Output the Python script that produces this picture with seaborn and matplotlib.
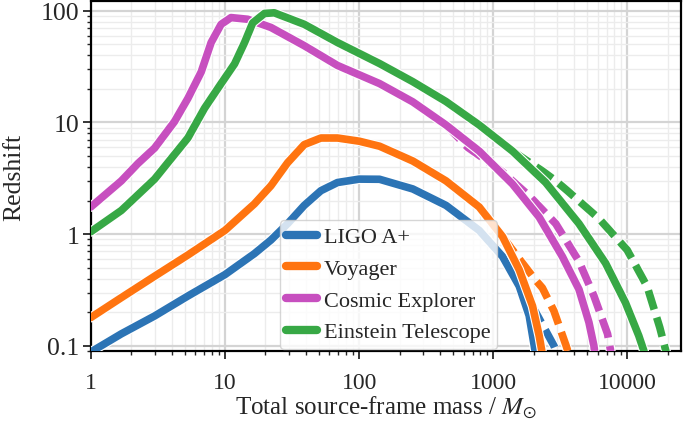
import numpy as np
import pandas as pd
import seaborn as sns
import matplotlib.pyplot as plt
import matplotlib.patheffects as pe
from matplotlib.ticker import FixedLocator, FixedFormatter, LogLocator, NullFormatter

# Values (total mass in solar masses, redshift)
ligo_mass = [1, 1.69, 2.99, 5.29, 10, 16.6, 22, 29.3, 39, 51.9, 69, 100, 142, 251, 444, 785, 1172, 1560, 1850, 2018, 2080]
ligo_z = [0.088, 0.128, 0.185, 0.279, 0.434, 0.67, 0.885, 1.24, 1.81, 2.45, 2.9, 3.11, 3.1, 2.54, 1.81, 1.08, 0.63, 0.342, 0.186, 0.1, 0.08]
ligo_dash_mass = [1172, 1560, 2070, 2830, 3050]
ligo_dash_z = [0.63, 0.36, 0.2, 0.1, 0.08]

voy_mass = [1, 1.69, 2.99, 5.29, 10, 16.6, 22, 29.3, 39, 51.9, 69, 100, 142, 251, 444, 785, 1172, 1560, 1960, 2197, 2330]
voy_z = [0.179, 0.27, 0.42, 0.65, 1.08, 1.87, 2.71, 4.36, 6.34, 7.26, 7.26, 6.8, 6.13, 4.52, 3.0, 1.75, 0.95, 0.48, 0.227, 0.123, 0.082]
voy_dash_mass = [1172, 1560, 2020, 2320, 2830, 3520, 3660]
voy_dash_z = [0.95, 0.6, 0.4, 0.33, 0.205, 0.097, 0.082]

ce_mass = [1, 1.69, 2.25, 2.99, 4.21, 5.29, 6.65, 7.89, 9.36, 11.1, 14.8, 22, 39, 69, 142, 251, 444, 785, 1390, 2197, 3270, 4350, 5160, 5620, 5750]
ce_z = [1.75, 3.0, 4.3, 5.9, 10.2, 16.4, 28.3, 52, 75.7, 87, 84, 71, 48.7, 32.4, 22.3, 15.3, 9.5, 5.54, 2.81, 1.42, 0.63, 0.32, 0.162, 0.1, 0.08]
ce_dash_mass = [444, 643, 1148, 1845, 2920, 4350, 5620, 7100, 7600]
ce_dash_z = [9.5, 6.0, 3.68, 2.21, 1.24, 0.57, 0.28, 0.128, 0.082]

et_mass = [1, 1.69, 2.99, 5.29, 7.04, 9.36, 11.8, 14, 16.1, 19.7, 23.3, 39, 69, 142, 251, 444, 785, 1390, 2455, 4350, 6860, 9660, 12140, 13600]
et_z = [1.05, 1.63, 3.11, 7.26, 13.4, 22.3, 33.5, 52, 78, 94.7, 96, 75.7, 52, 33.7, 23.2, 15.4, 9.5, 5.54, 2.9, 1.24, 0.55, 0.243, 0.123, 0.082]
et_dash_mass = [1390, 2320, 2920, 3560, 6120, 9950, 14000, 17400, 19700]
et_dash_z = [5.54, 3.68, 3.0, 2.45, 1.38, 0.72, 0.34, 0.146, 0.082]

labels = ['LIGO A+', 'Voyager', 'Cosmic Explorer', 'Einstein Telescope']
colors = ['#2c74b5', '#ff7410', '#c74fbf', '#37a845']

sns.set_style('ticks')
plt.rcParams['font.family'] = ['Liberation Serif', 'DejaVu Serif']
plt.rcParams['mathtext.fontset'] = 'stix'

fig = plt.figure(figsize=(6.85, 4.35), dpi=100)
ax = fig.add_axes([0.1325, 0.191, 0.8615, 0.804])

solid = [(ligo_mass, ligo_z), (voy_mass, voy_z), (ce_mass, ce_z), (et_mass, et_z)]
dashed = [(ligo_dash_mass, ligo_dash_z), (voy_dash_mass, voy_dash_z),
          (ce_dash_mass, ce_dash_z), (et_dash_mass, et_dash_z)]

LW = 5.5
outline = [pe.withStroke(linewidth=LW + 1.6, foreground='white')]

# dashed tails first, solid curves on top
for i, (m, z) in enumerate(dashed):
    df = pd.DataFrame({'mass': m, 'z': z})
    sns.lineplot(data=df, x='mass', y='z', ax=ax, color=colors[i], lw=LW,
                 linestyle=(0, (2.6, 1.1)), sort=False, estimator=None,
                 dash_capstyle='butt', path_effects=outline, zorder=3 + i * 0.1)

handles = []
for i, (m, z) in enumerate(solid):
    df = pd.DataFrame({'mass': m, 'z': z})
    sns.lineplot(data=df, x='mass', y='z', ax=ax, color=colors[i], lw=LW,
                 sort=False, estimator=None, solid_joinstyle='round',
                 path_effects=outline, zorder=4 + i * 0.1)
    handles.append(ax.lines[-1])

ax.set_xscale('log')
ax.set_yscale('log')
ax.set_xlim(1, 25000)
ax.set_ylim(0.09, 122)

ax.xaxis.set_major_locator(FixedLocator([1, 10, 100, 1000, 10000]))
ax.xaxis.set_major_formatter(FixedFormatter(['1', '10', '100', '1000', '10000']))
ax.yaxis.set_major_locator(FixedLocator([0.1, 1, 10, 100]))
ax.yaxis.set_major_formatter(FixedFormatter(['0.1', '1', '10', '100']))
ax.xaxis.set_minor_locator(LogLocator(base=10, subs=np.arange(2, 10), numticks=20))
ax.yaxis.set_minor_locator(LogLocator(base=10, subs=np.arange(2, 10), numticks=20))
ax.xaxis.set_minor_formatter(NullFormatter())
ax.yaxis.set_minor_formatter(NullFormatter())

ax.grid(True, which='major', color='#d4d4d4', lw=1.6, zorder=0)
ax.grid(True, which='minor', color='#ececec', lw=1.0, zorder=0)
ax.set_axisbelow(True)

for s in ax.spines.values():
    s.set_color('black')
    s.set_linewidth(1.6)
ax.tick_params(which='major', direction='out', length=6, width=1.3)
ax.tick_params(which='minor', direction='out', length=3, width=1.0)
ax.tick_params(axis='x', which='major', labelsize=17, pad=9)
ax.tick_params(axis='y', which='major', labelsize=18.5, pad=2)

ax.set_xlabel(r'Total source-frame mass / $M_{\odot}$', fontsize=18, labelpad=1)
ax.set_ylabel('Redshift', fontsize=18.5, labelpad=11)

leg = ax.legend(handles, labels, loc='lower left', bbox_to_anchor=(0.32, 0.005),
                borderaxespad=0, fontsize=16, handlelength=1.4, handletextpad=0.3,
                borderpad=0.3, labelspacing=0.5, frameon=True, fancybox=True,
                framealpha=0.8)
leg.get_frame().set_edgecolor('#cccccc')
for h in leg.legend_handles:
    h.set_linewidth(6)
    h.set_path_effects([])

fig.savefig('out.png', dpi=100)
